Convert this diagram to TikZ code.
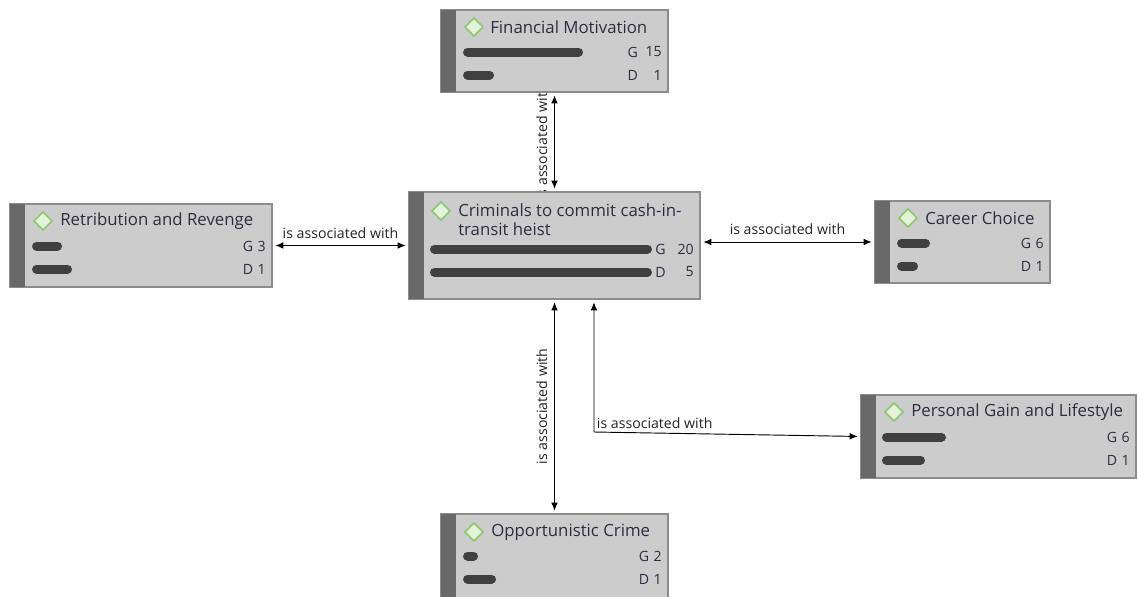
\documentclass[tikz,border=0pt]{standalone}
\usepackage{fontspec}
\setmainfont{Open Sans}
\usetikzlibrary{arrows.meta,shapes.geometric}
\pgfdeclarelayer{bg}
\pgfsetlayers{bg,main}
\definecolor{boxfill}{RGB}{204,204,204}
\definecolor{boxline}{RGB}{140,140,140}
\definecolor{stripgray}{RGB}{105,105,105}
\definecolor{bargray}{RGB}{64,64,64}
\definecolor{titletext}{RGB}{45,45,65}
\definecolor{labeltext}{RGB}{35,35,35}
\definecolor{tagline}{RGB}{140,200,110}
\definecolor{tagfill}{RGB}{228,242,218}
\begin{document}
\begin{tikzpicture}[x=0.75pt,y=-0.75pt,
	codebox/.style={draw=boxline,fill=boxfill,line width=0.9pt,anchor=north west,inner sep=0pt,outer sep=0pt},
	strip/.style={fill=stripgray},
	tagicon/.style={diamond,draw=tagline,fill=tagfill,line width=1.2pt,minimum size=14pt,inner sep=0pt},
	tagtext/.style={anchor=west,inner sep=0pt,text=titletext,align=left,font=\fontsize{12.6}{14.25}\selectfont},
	countbar/.style={line width=6.75pt,line cap=round,draw=bargray},
	countkey/.style={anchor=west,inner sep=0pt,text=titletext,font=\fontsize{10.6}{12}\selectfont},
	countval/.style={anchor=east,inner sep=0pt,text=titletext,font=\fontsize{10.6}{12}\selectfont},
	link/.style={{Latex[length=6pt,width=5pt]}-{Latex[length=6pt,width=5pt]},line width=0.7pt,shorten <=2.5pt,shorten >=2.5pt},
	linklabel/.style={font=\fontsize{10.6}{12}\selectfont,text=labeltext,inner sep=1pt}]
	\useasboundingbox (0,0) rectangle (1137,596);
	% Financial Motivation
	\node[codebox,minimum width=170.25pt,minimum height=61.5pt] (fm) at (441,10) {};
	\fill[strip] (fm.north west) rectangle ([xshift=11.25pt]fm.south west);
	\node[tagicon] (fm-i) at ([xshift=24.75pt,yshift=-12.75pt]fm.north west) {};
	\node[tagtext] (fm-t) at ([xshift=36.75pt,yshift=-12.75pt]fm.north west) {Financial Motivation};
	\draw[countbar] ([xshift=19.9pt,yshift=-31.5pt]fm.north west) -- ++(111,0);
	\draw[countbar] ([xshift=19.9pt,yshift=-48.75pt]fm.north west) -- ++(22,0);
	\node[countkey] (fm-gk) at ([xshift=-30.5pt,yshift=-31.5pt]fm.north east) {G};
	\node[countval] (fm-gv) at ([xshift=-4.5pt,yshift=-31.5pt]fm.north east) {15};
	\node[countkey] (fm-dk) at ([xshift=-30.5pt,yshift=-48.75pt]fm.north east) {D};
	\node[countval] (fm-dv) at ([xshift=-4.5pt,yshift=-48.75pt]fm.north east) {1};
	% Criminals to commit cash-in-transit heist
	\node[codebox,minimum width=218.25pt,minimum height=80.25pt] (cr) at (409,192) {};
	\fill[strip] (cr.north west) rectangle ([xshift=11.25pt]cr.south west);
	\node[tagicon] (cr-i) at ([xshift=24pt,yshift=-14.25pt]cr.north west) {};
	\node[tagtext] (cr-t) at ([xshift=36.75pt,yshift=-20.6pt]cr.north west) {Criminals to commit cash-in-\\transit heist};
	\draw[countbar] ([xshift=19.1pt,yshift=-42.75pt]cr.north west) -- ++(213,0);
	\draw[countbar] ([xshift=19.1pt,yshift=-60pt]cr.north west) -- ++(213,0);
	\node[countkey] (cr-gk) at ([xshift=-33.75pt,yshift=-42.75pt]cr.north east) {G};
	\node[countval] (cr-gv) at ([xshift=-4.5pt,yshift=-42.75pt]cr.north east) {20};
	\node[countkey] (cr-dk) at ([xshift=-33.75pt,yshift=-60pt]cr.north east) {D};
	\node[countval] (cr-dv) at ([xshift=-4.5pt,yshift=-60pt]cr.north east) {5};
	% Retribution and Revenge
	\node[codebox,minimum width=196.5pt,minimum height=62.25pt] (rr) at (10,204) {};
	\fill[strip] (rr.north west) rectangle ([xshift=11.25pt]rr.south west);
	\node[tagicon] (rr-i) at ([xshift=24.75pt,yshift=-12.75pt]rr.north west) {};
	\node[tagtext] (rr-t) at ([xshift=37.5pt,yshift=-12.75pt]rr.north west) {Retribution and Revenge};
	\draw[countbar] ([xshift=19.9pt,yshift=-31.5pt]rr.north west) -- ++(21,0);
	\draw[countbar] ([xshift=19.9pt,yshift=-48.75pt]rr.north west) -- ++(31,0);
	\node[countkey] (rr-gk) at ([xshift=-22pt,yshift=-31.5pt]rr.north east) {G};
	\node[countval] (rr-gv) at ([xshift=-4.5pt,yshift=-31.5pt]rr.north east) {3};
	\node[countkey] (rr-dk) at ([xshift=-22pt,yshift=-48.75pt]rr.north east) {D};
	\node[countval] (rr-dv) at ([xshift=-4.5pt,yshift=-48.75pt]rr.north east) {1};
	% Career Choice
	\node[codebox,minimum width=131.25pt,minimum height=61.5pt] (cc) at (875,201) {};
	\fill[strip] (cc.north west) rectangle ([xshift=11.25pt]cc.south west);
	\node[tagicon] (cc-i) at ([xshift=24.75pt,yshift=-12.75pt]cc.north west) {};
	\node[tagtext] (cc-t) at ([xshift=37.5pt,yshift=-12.75pt]cc.north west) {Career Choice};
	\draw[countbar] ([xshift=19.9pt,yshift=-31.5pt]cc.north west) -- ++(24,0);
	\draw[countbar] ([xshift=19.9pt,yshift=-48.75pt]cc.north west) -- ++(12,0);
	\node[countkey] (cc-gk) at ([xshift=-22pt,yshift=-31.5pt]cc.north east) {G};
	\node[countval] (cc-gv) at ([xshift=-4.5pt,yshift=-31.5pt]cc.north east) {6};
	\node[countkey] (cc-dk) at ([xshift=-22pt,yshift=-48.75pt]cc.north east) {D};
	\node[countval] (cc-dv) at ([xshift=-4.5pt,yshift=-48.75pt]cc.north east) {1};
	% Personal Gain and Lifestyle
	\node[codebox,minimum width=206.25pt,minimum height=62.25pt] (pg) at (861,395) {};
	\fill[strip] (pg.north west) rectangle ([xshift=11.25pt]pg.south west);
	\node[tagicon] (pg-i) at ([xshift=24.75pt,yshift=-12.75pt]pg.north west) {};
	\node[tagtext] (pg-t) at ([xshift=37.5pt,yshift=-12.75pt]pg.north west) {Personal Gain and Lifestyle};
	\draw[countbar] ([xshift=19.1pt,yshift=-31.5pt]pg.north west) -- ++(55,0);
	\draw[countbar] ([xshift=19.1pt,yshift=-48.75pt]pg.north west) -- ++(34,0);
	\node[countkey] (pg-gk) at ([xshift=-22pt,yshift=-31.5pt]pg.north east) {G};
	\node[countval] (pg-gv) at ([xshift=-4.5pt,yshift=-31.5pt]pg.north east) {6};
	\node[countkey] (pg-dk) at ([xshift=-22pt,yshift=-48.75pt]pg.north east) {D};
	\node[countval] (pg-dv) at ([xshift=-4.5pt,yshift=-48.75pt]pg.north east) {1};
	% Opportunistic Crime
	\node[codebox,minimum width=170.25pt,minimum height=66pt] (oc) at (441,514) {};
	\fill[strip] (oc.north west) rectangle ([xshift=11.25pt]oc.south west);
	\node[tagicon] (oc-i) at ([xshift=24.75pt,yshift=-13.5pt]oc.north west) {};
	\node[tagtext] (oc-t) at ([xshift=37.5pt,yshift=-13.5pt]oc.north west) {Opportunistic Crime};
	\draw[countbar] ([xshift=19.9pt,yshift=-31.5pt]oc.north west) -- ++(6,0);
	\draw[countbar] ([xshift=19.9pt,yshift=-48.75pt]oc.north west) -- ++(24,0);
	\node[countkey] (oc-gk) at ([xshift=-22pt,yshift=-31.5pt]oc.north east) {G};
	\node[countval] (oc-gv) at ([xshift=-4.5pt,yshift=-31.5pt]oc.north east) {2};
	\node[countkey] (oc-dk) at ([xshift=-22pt,yshift=-48.75pt]oc.north east) {D};
	\node[countval] (oc-dv) at ([xshift=-4.5pt,yshift=-48.75pt]oc.north east) {1};
	% links
	\coordinate (bend) at (594,432);
	\begin{pgfonlayer}{bg}
	\draw[link] (cr.north) -- node[linklabel,midway,sloped,above=4pt] (l-fm) {is associated with} (fm.south);
	\draw[link] (rr.east) -- node[linklabel,midway,above=4pt] (l-rr) {is associated with} (rr.east -| cr.west);
	\draw[link] (cr.east |- cc.west) -- node[linklabel,midway,above=4pt] (l-cc) {is associated with} (cc.west);
	\draw[link] (oc.north) -- node[linklabel,midway,sloped,above=4pt] (l-oc) {is associated with} (cr.south);
	\draw[link] ([xshift=29.6pt]cr.south) -- (bend) -- (pg.west);
	\node[linklabel,anchor=south west] (l-pg) at ([xshift=1pt,yshift=1pt]bend) {is associated with};
	\end{pgfonlayer}
\end{tikzpicture}
\end{document}
